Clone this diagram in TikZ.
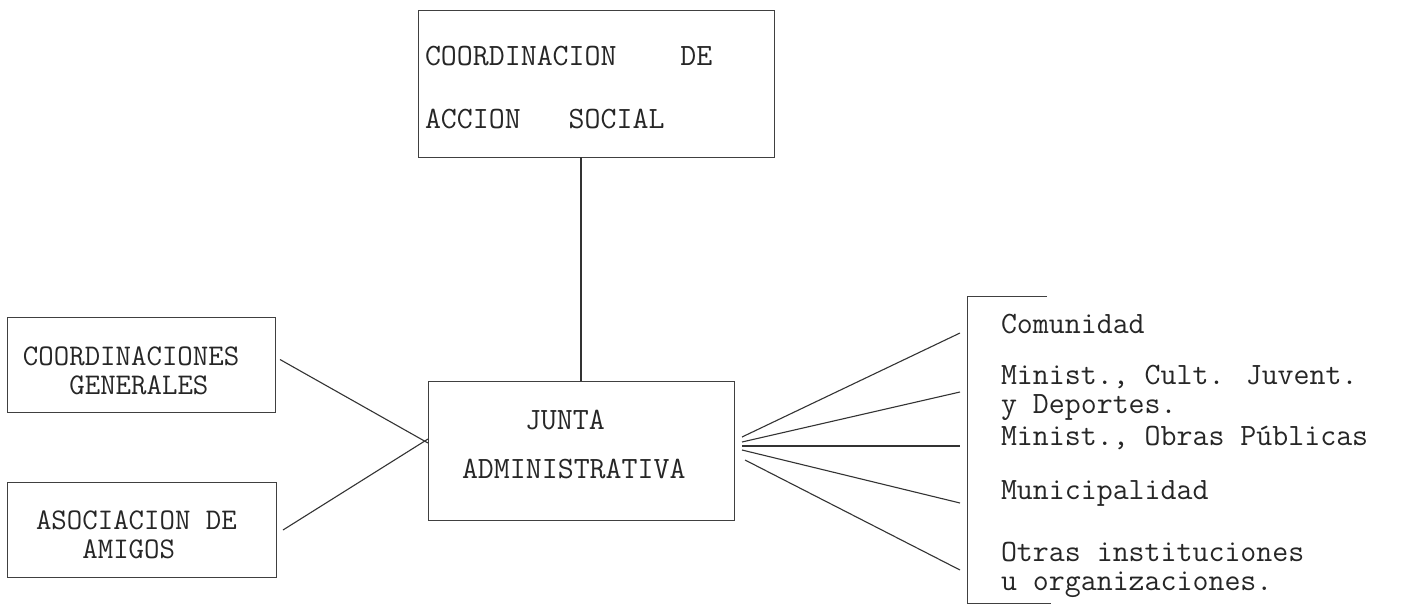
\documentclass[tikz,border=0pt]{standalone}
\begin{document}
\begin{tikzpicture}[x=1pt,y=-1pt,
  box/.style={draw=black!75,line width=0.9pt,rectangle,inner sep=0pt,outer sep=0pt},
  conn/.style={draw=black!80,line width=1.1pt},
  txt/.style={anchor=base west,inner sep=0pt,outer sep=0pt,font=\ttfamily\fontsize{31}{31}\selectfont,text=black!85},
  mtxt/.style={anchor=north west,align=left,inner sep=0pt,outer sep=0pt,font=\ttfamily\fontsize{30}{29}\selectfont,text=black!85}]
\useasboundingbox[fill=white] (0,0) rectangle (1405,605);
% boxes
\node[box,minimum width=356pt,minimum height=147pt] (top) at (596,83.5) {};
\node[box,minimum width=306pt,minimum height=139pt] (junta) at (581,450.5) {};
\node[box,minimum width=268pt,minimum height=95pt] (cg) at (141,364.5) {};
\node[box,minimum width=269pt,minimum height=95pt] (aa) at (141.5,529.5) {};
\node[inner sep=0pt,outer sep=0pt,minimum width=400pt,minimum height=307pt] (ext) at (1167,449.5) {};
\draw[box] ([xshift=80pt]ext.north west) -- (ext.north west) -- (ext.south west) -- ([xshift=84pt]ext.south west);
% texts
\node[txt] (t1) at (425,65) {COORDINACION~~~~DE};
\node[txt] (t2) at (425,128) {ACCION~~~SOCIAL};
\node[txt] (j1) at (525,429) {JUNTA};
\node[txt] (j2) at (462,478) {ADMINISTRATIVA};
\node[mtxt] (c1) at (23,347) {COORDINACIONES\\\phantom{XXX}GENERALES};
\node[mtxt] (a1) at (36,511) {ASOCIACION DE\\\phantom{XXX}AMIGOS};
\node[txt] (r1) at (1001,333) {Comunidad};
\node[txt] (r2) at (1001,384) {Minist., Cult. Juvent.};
\node[txt] (r3) at (1001,413) {y Deportes.};
\node[txt] (r4) at (1001,445) {Minist., Obras Públicas};
\node[txt] (r5) at (1001,499) {Municipalidad};
\node[txt] (r6) at (1001,561) {Otras instituciones};
\node[txt] (r7) at (1001,590) {u organizaciones.};
% connectors
\draw[conn] (junta.north) -- (junta.north |- top.south);
\draw[conn] ([shift={(5pt,5pt)}]cg.east) -- ([yshift=7.5pt]junta.west);
\draw[conn] ([shift={(7pt,-0.5pt)}]aa.east) -- ([yshift=11.5pt]junta.west);
\coordinate (f1) at (742,437);
\coordinate (f2) at (742,442);
\coordinate (f3) at (742,446);
\coordinate (f4) at (742,450);
\coordinate (f5) at (745,460);
\coordinate (e1) at (960,333);
\coordinate (e2) at (960,392);
\coordinate (e3) at (960,446);
\coordinate (e4) at (960,503);
\coordinate (e5) at (960,570);
\foreach \i in {1,...,5} {\draw[conn] (f\i) -- (e\i);}
\end{tikzpicture}
\end{document}
